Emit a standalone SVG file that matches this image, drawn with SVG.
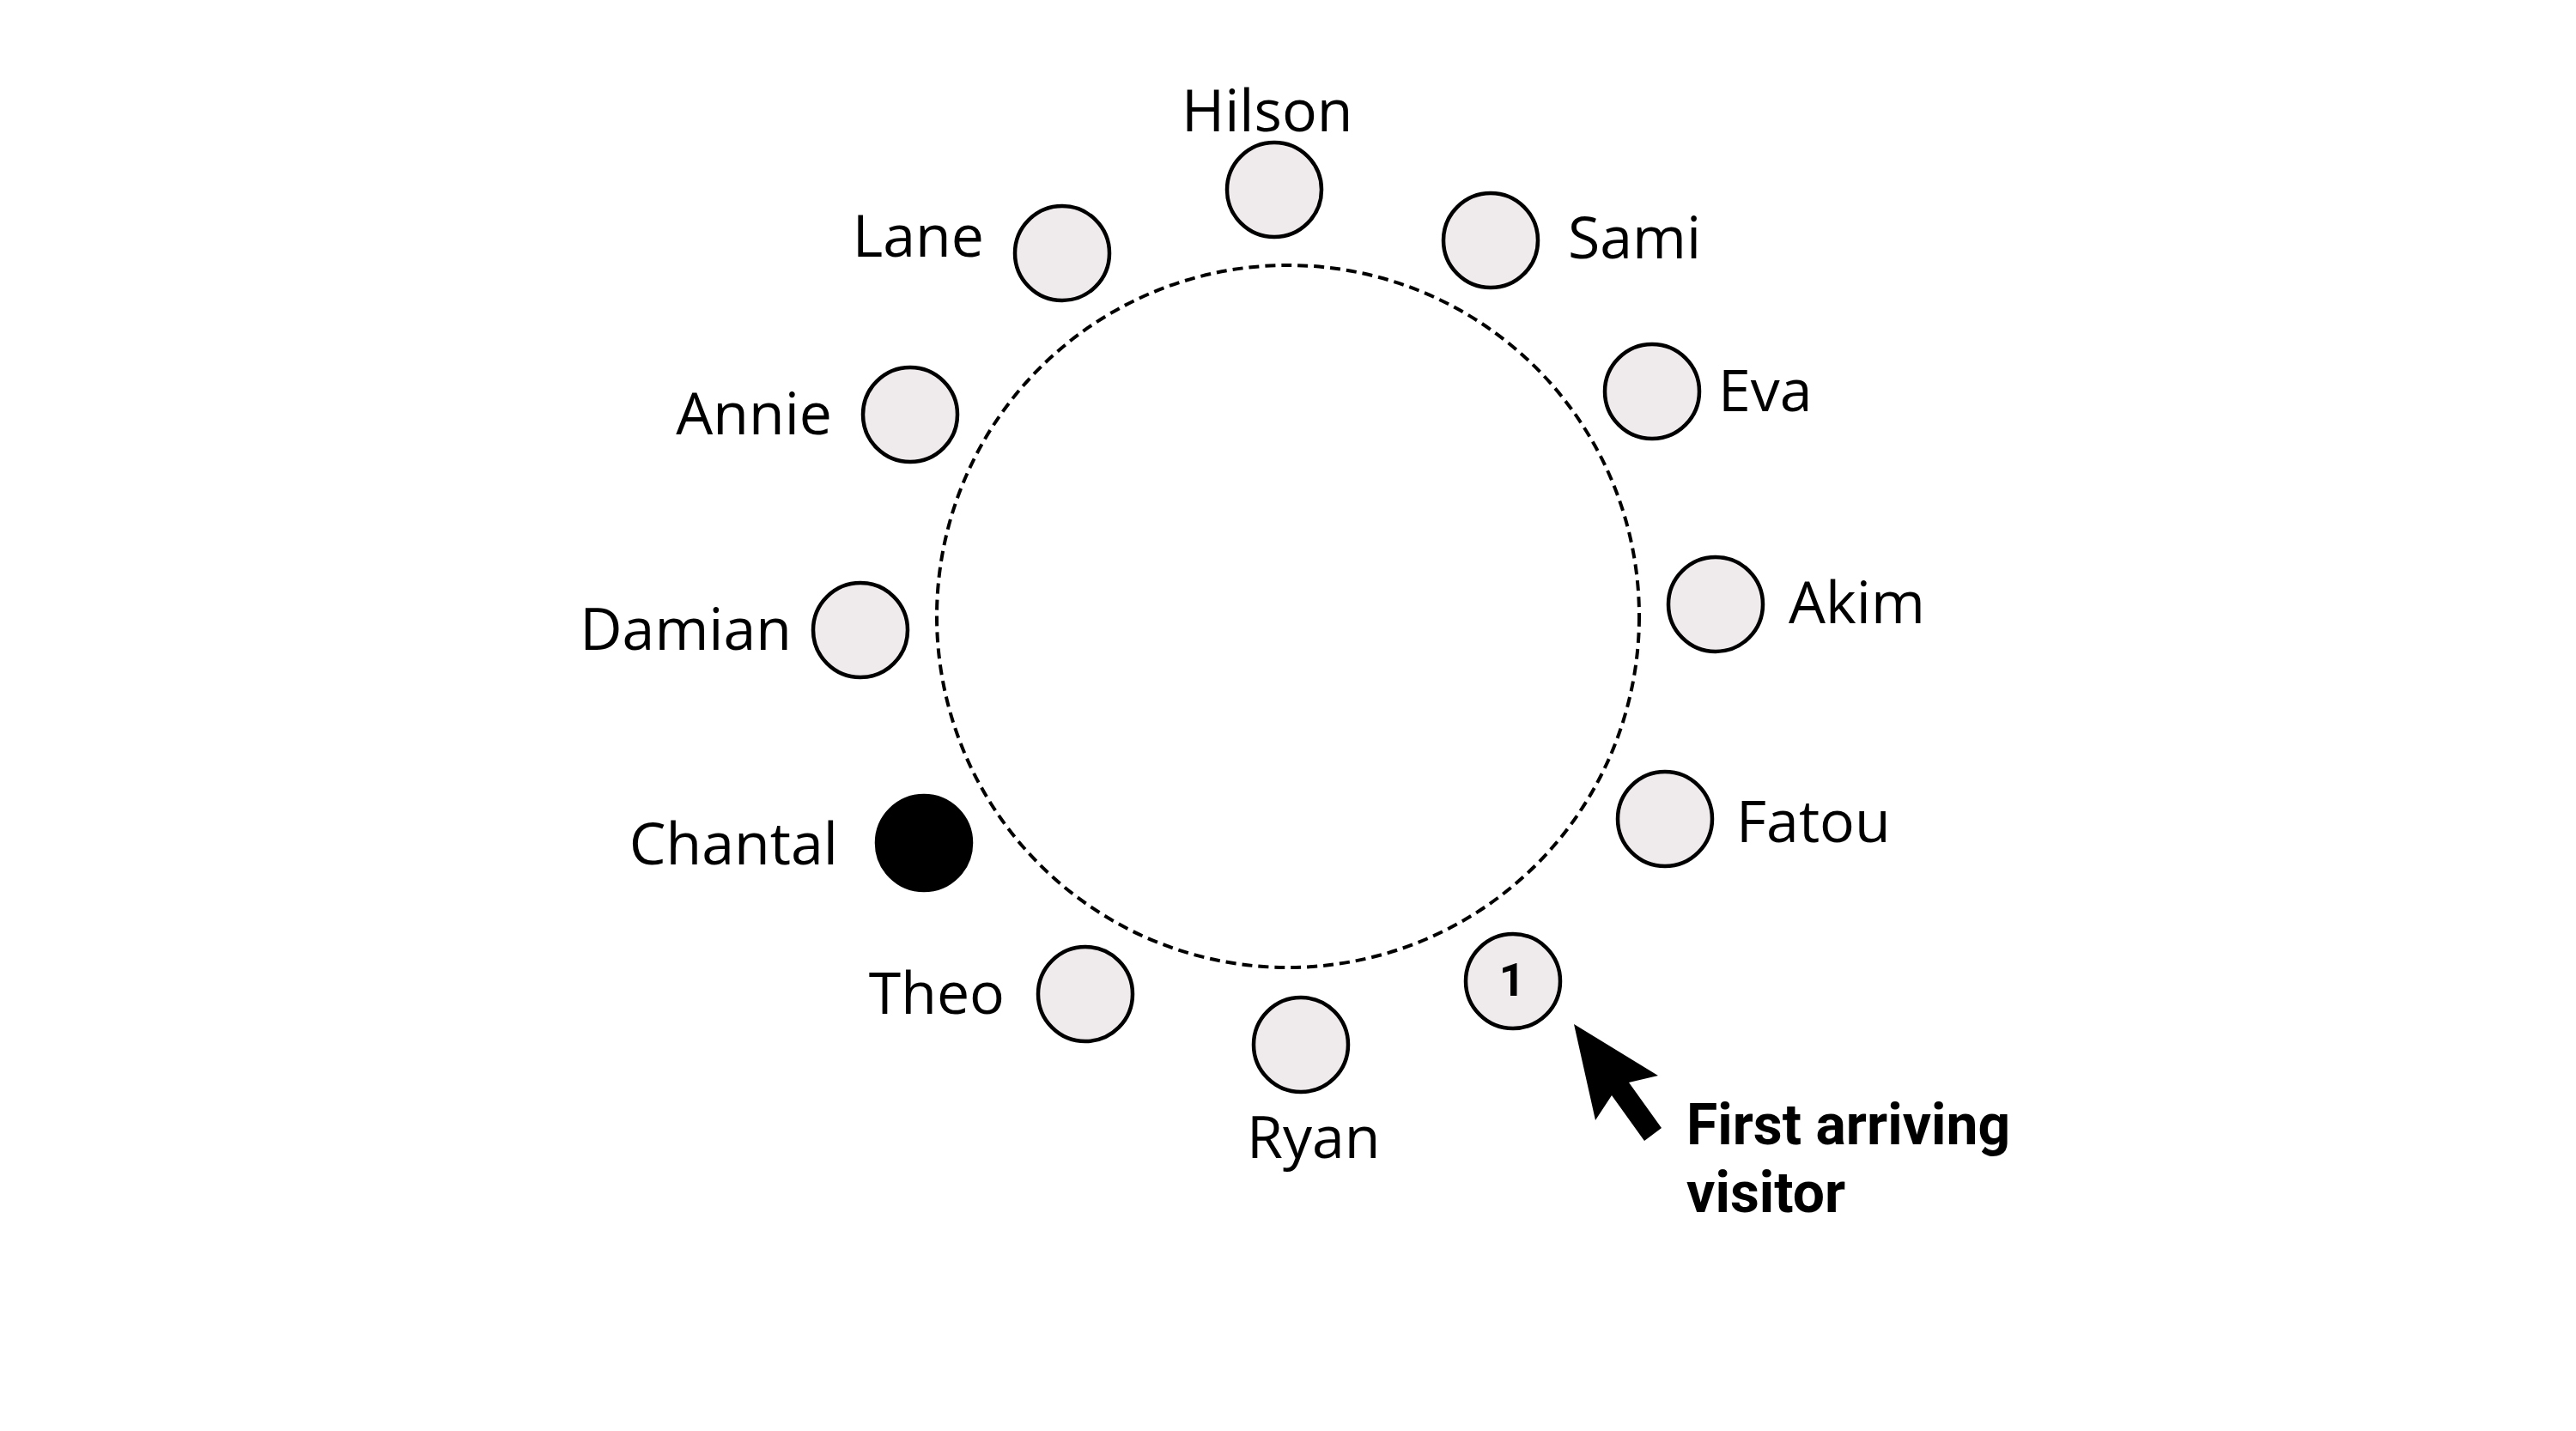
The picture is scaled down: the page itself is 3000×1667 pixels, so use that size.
<svg xmlns="http://www.w3.org/2000/svg" width="3000" height="1667" viewBox="0 0 3000 1667">
<style>
.seat{fill:#efeaec;stroke:#000;stroke-width:4.5}
.host{fill:#000;stroke:#000;stroke-width:4.5}
.name{font-family:"Open Sans","Noto Sans",sans-serif;font-size:68px;fill:#000}
.end{text-anchor:end}
.num{font-family:Roboto,"Liberation Sans",sans-serif;font-weight:bold;font-size:53px;text-anchor:middle;fill:#000}
.note{font-family:Roboto,"Liberation Sans",sans-serif;font-weight:bold;font-size:66px;fill:#000}
</style>
<rect width="3000" height="1667" fill="#fff"/>
<g id="connectors">
<circle id="table" cx="1500" cy="718" r="409" fill="none" stroke="#000" stroke-width="4" stroke-dasharray="12 7"/>
<polygon id="pointer" points="1833,1193 1931,1253 1897,1261 1935,1314 1915,1329 1877,1276 1858,1305" fill="#000"/>
</g>
<g id="hilson"><circle class="seat" cx="1484" cy="221" r="55"/><text class="name" x="1376" y="153">Hilson</text></g>
<g id="sami"><circle class="seat" cx="1736" cy="280" r="55"/><text class="name" x="1826" y="301">Sami</text></g>
<g id="eva"><circle class="seat" cx="1924" cy="456" r="55"/><text class="name" x="2001" y="479">Eva</text></g>
<g id="akim"><circle class="seat" cx="1998" cy="704" r="55"/><text class="name" x="2083" y="726">Akim</text></g>
<g id="fatou"><circle class="seat" cx="1939" cy="954" r="55"/><text class="name" x="2022" y="981">Fatou</text></g>
<g id="visitor1"><circle class="seat" cx="1762" cy="1143" r="55"/><text class="num" x="1761" y="1160">1</text></g>
<g id="ryan"><circle class="seat" cx="1515" cy="1217" r="55"/><text class="name" x="1452" y="1349">Ryan</text></g>
<g id="theo"><circle class="seat" cx="1264" cy="1158" r="55"/><text class="name end" x="1170" y="1181">Theo</text></g>
<g id="chantal"><circle class="host" cx="1076" cy="982" r="55"/><text class="name end" x="976" y="1007">Chantal</text></g>
<g id="damian"><circle class="seat" cx="1002" cy="734" r="55"/><text class="name end" x="922" y="757">Damian</text></g>
<g id="annie"><circle class="seat" cx="1060" cy="483" r="55"/><text class="name end" x="969" y="506">Annie</text></g>
<g id="lane"><circle class="seat" cx="1237" cy="295" r="55"/><text class="name end" x="1146" y="299">Lane</text></g>
<g id="callout"><text class="note" x="1964" y="1333">First arriving</text><text class="note" x="1964" y="1412">visitor</text></g>
</svg>
